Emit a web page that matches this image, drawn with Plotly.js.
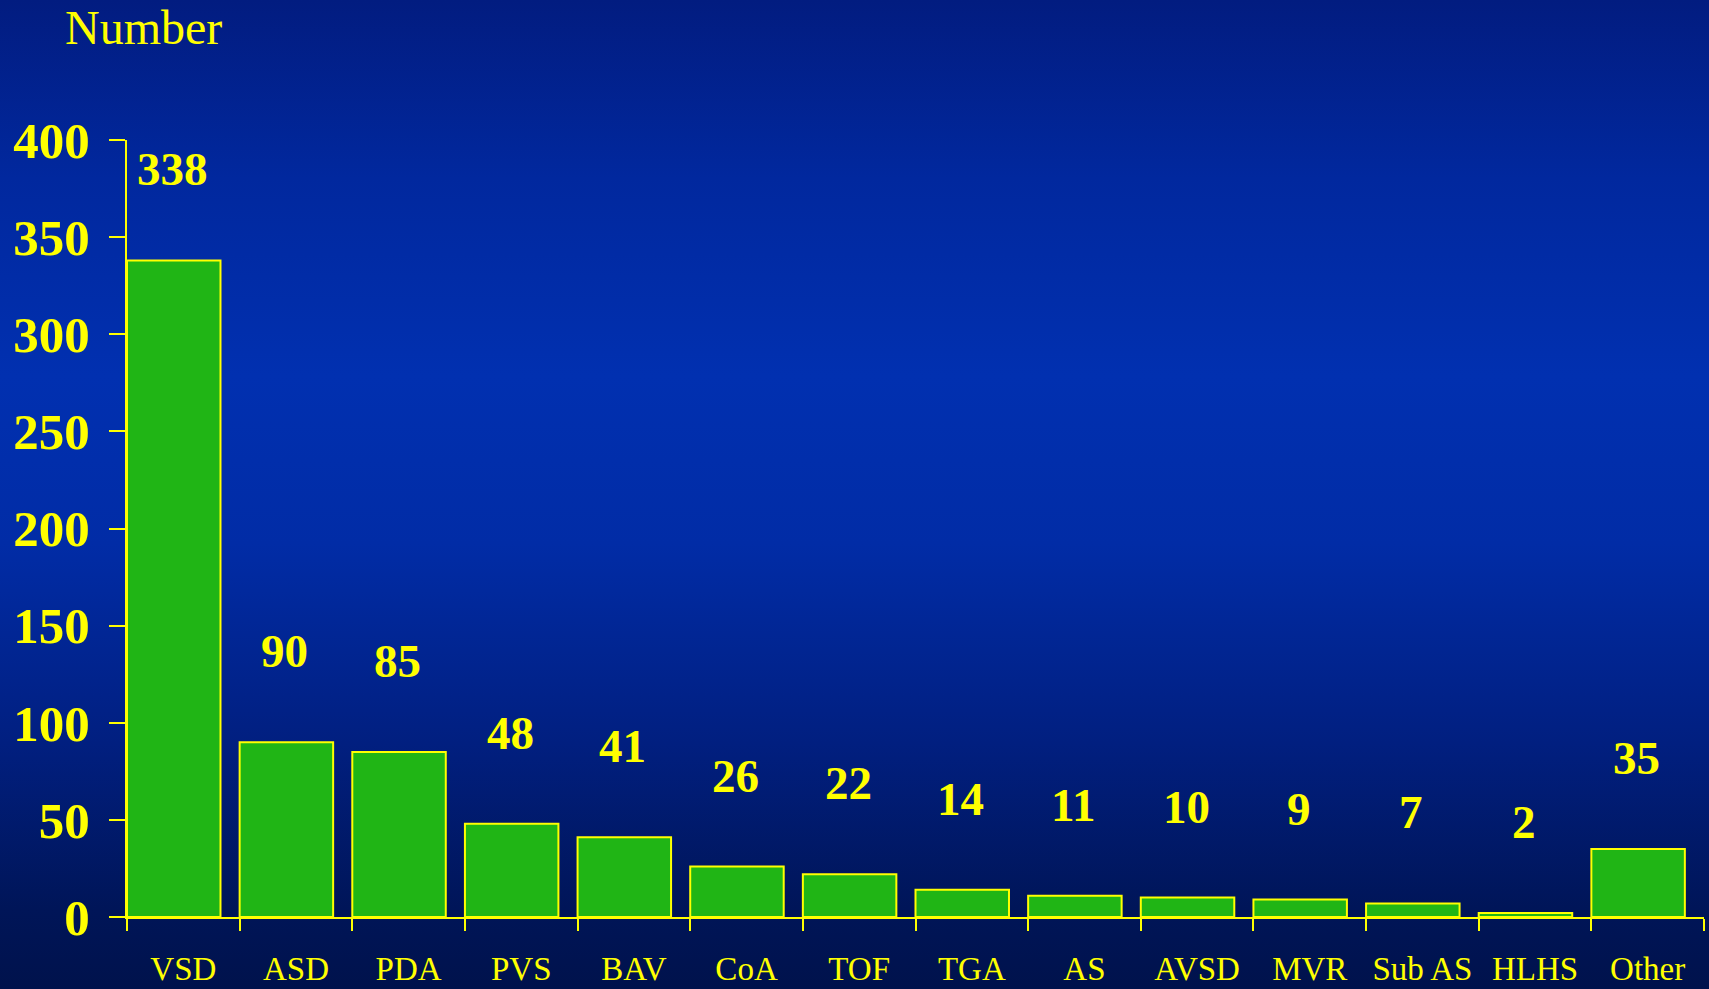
<!DOCTYPE html>
<html>
<head>
<meta charset="utf-8">
<script src="https://cdn.plot.ly/plotly-3.0.1.min.js"></script>
<style>
  html, body { margin: 0; padding: 0; width: 1709px; height: 989px; overflow: hidden; }
  body {
    background: linear-gradient(to bottom, #021c80 0%, #01289e 18%, #0130b0 38%, #012ca6 55%, #011f80 75%, #001558 92%, #00124c 100%);
  }
  #chart { width: 1709px; height: 989px; }
</style>
</head>
<body>
<div id="chart"></div>
<script>
const categories = ["VSD", "ASD", "PDA", "PVS", "BAV", "CoA", "TOF", "TGA", "AS", "AVSD", "MVR", "Sub AS", "HLHS", "Other"];
const counts = [338, 90, 85, 48, 41, 26, 22, 14, 11, 10, 9, 7, 2, 35];
const yTickValues = [0, 50, 100, 150, 200, 250, 300, 350, 400];
const yAxisLabel = "Number";

const yellow = "#ffff00";
const serif = "Liberation Serif, Times New Roman, serif";

const trace = {
  type: "bar",
  x: categories,
  y: counts,
  width: 0.83,
  offset: -0.5,
  marker: { color: "#20b515", line: { color: yellow, width: 2 } },
  hoverinfo: "x+y"
};

const annotations = categories.map((c, i) => ({
  x: c, y: counts[i], xref: "x", yref: "y",
  text: String(counts[i]),
  showarrow: false,
  xanchor: "center", yanchor: "middle",
  xshift: -11, yshift: 91,
  font: { family: serif, size: 47, color: yellow, weight: "bold" }
}));

const layout = {
  width: 1709, height: 989,
  margin: { l: 127, r: 5, t: 140, b: 72 },
  paper_bgcolor: "rgba(0,0,0,0)",
  plot_bgcolor: "rgba(0,0,0,0)",
  showlegend: false,
  title: {
    text: yAxisLabel,
    xref: "container", yref: "container",
    x: 65 / 1709, xanchor: "left",
    y: 1 - 27 / 989, yanchor: "middle",
    font: { family: serif, size: 48, color: yellow }
  },
  xaxis: {
    type: "category",
    range: [-0.5, 13.5],
    tickson: "boundaries",
    tickangle: 0,
    ticks: "outside", ticklen: 12, tickwidth: 2, tickcolor: yellow,
    showline: true, linecolor: yellow, linewidth: 2,
    showgrid: false, zeroline: false,
    ticklabelstandoff: 21,
    tickfont: { family: serif, size: 33, color: yellow }
  },
  yaxis: {
    range: [0, 400],
    tickvals: yTickValues,
    ticks: "outside", ticklen: 16, tickwidth: 2, tickcolor: yellow,
    showline: true, linecolor: yellow, linewidth: 2,
    showgrid: false, zeroline: false,
    ticklabelstandoff: 9,
    tickfont: { family: serif, size: 51, color: yellow, weight: "bold" }
  },
  annotations: annotations
};

Plotly.newPlot("chart", [trace], layout, { displayModeBar: false, staticPlot: true });
</script>
</body>
</html>
